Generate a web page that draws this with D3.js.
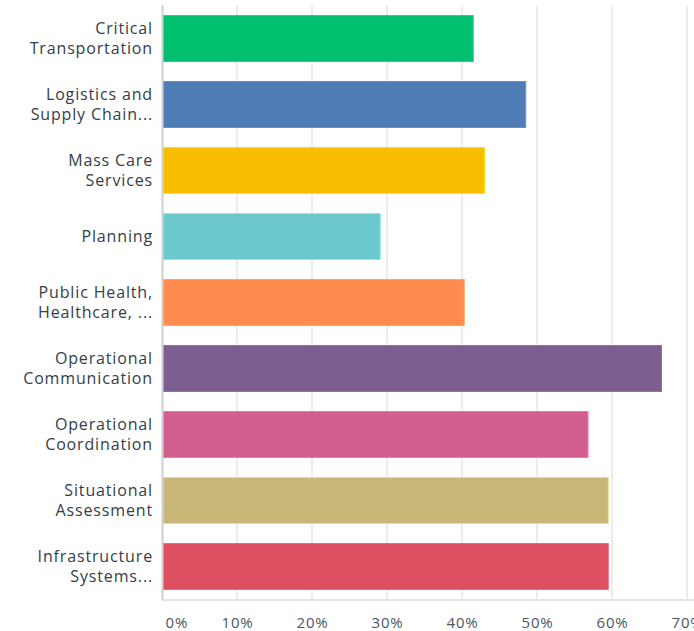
<!DOCTYPE html>
<html><head><meta charset="utf-8">
<script src="https://cdn.jsdelivr.net/npm/d3@7"></script>
<style>body{margin:0;background:#fff}</style>
</head><body>
<svg id="c" width="694" height="631"></svg>
<script>
const categories = [
  ["Critical","Transportation"],
  ["Logistics and","Supply Chain..."],
  ["Mass Care","Services"],
  ["Planning"],
  ["Public Health,","Healthcare, ..."],
  ["Operational","Communication"],
  ["Operational","Coordination"],
  ["Situational","Assessment"],
  ["Infrastructure","Systems..."]
];
const values = [41.5, 48.5, 43.0, 29.1, 40.3, 66.6, 56.8, 59.5, 59.5];
const colors = ["#00BF6F","#507CB6","#F9BE00","#6BC8CD","#FF8B4F","#7D5E90","#D25F90","#C7B879","#DC5061"];
const tickValues = [0,10,20,30,40,50,60,70];
const tickLabels = ["0%","10%","20%","30%","40%","50%","60%","70%"];

const svg = d3.select("#c");
const x = d3.scaleLinear().domain([0,70]).range([162,687]);
const y = d3.scaleBand().domain(d3.range(categories.length)).range([5.5,599.5]).paddingInner(0.288).paddingOuter(0.144);
const font = "'Open Sans', sans-serif";

// gridlines
svg.append("g").selectAll("line").data(tickValues.slice(1)).join("line")
  .attr("x1", d=>x(d)).attr("x2", d=>x(d)).attr("y1", 5.5).attr("y2", 599.5)
  .attr("stroke","#ececec").attr("stroke-width",2);

// bars
svg.append("g").selectAll("rect").data(values).join("rect")
  .attr("x", x(0)+1).attr("y", (d,i)=>y(i)+0.5)
  .attr("width", d=>x(d)-x(0)-1).attr("height", y.bandwidth()-1)
  .attr("fill",(d,i)=>colors[i])
  .attr("stroke",(d,i)=>d3.color(colors[i]).brighter(0.5)).attr("stroke-width",1);

// axes lines
svg.append("line").attr("x1",x(0)+0.5).attr("x2",x(0)+0.5).attr("y1",5.5).attr("y2",600)
  .attr("stroke","#cfcfcf").attr("stroke-width",2);
svg.append("line").attr("x1",x(0)).attr("x2",694).attr("y1",600).attr("y2",600)
  .attr("stroke","#e3e3e3").attr("stroke-width",2);

// x tick labels
const xAxis = d3.axisBottom(x).tickValues(tickValues).tickFormat((d,i)=>tickLabels[i]).tickSize(0).tickPadding(0);
const gx = svg.append("g").attr("transform","translate(0,628)").call(xAxis);
gx.select(".domain").remove();
gx.selectAll("text").attr("dy",null).attr("font-family",font).attr("font-size",15).attr("letter-spacing","0.8px")
  .attr("fill","#4a5660")
  .attr("text-anchor",(d,i)=>i===0?"start":"middle")
  .attr("x",(d,i)=>i===0?3:0);

// y labels
const gl = svg.append("g");
categories.forEach((lines,i)=>{
  const cy = y(i)+y.bandwidth()/2;
  const t = gl.append("text").attr("text-anchor","end").attr("font-family",font)
    .attr("font-size",16).attr("letter-spacing","0.85px").attr("fill","#333e48");
  lines.forEach((s,j)=>{
    t.append("tspan").attr("x",153).attr("y", cy + (j - (lines.length-1)/2)*20.5 + 5.5).text(s);
  });
});
</script>
</body></html>
